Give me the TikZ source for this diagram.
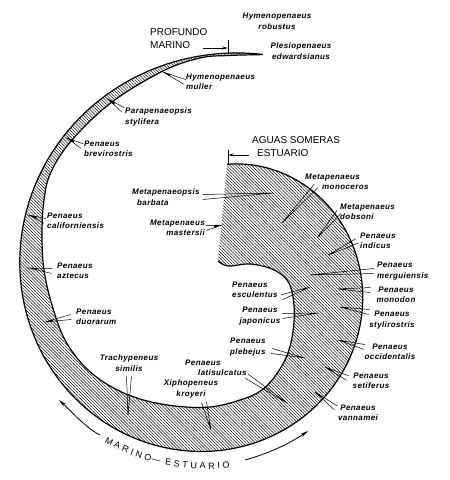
\documentclass[tikz,border=0pt]{standalone}
\usepackage{fontspec}
\setmainfont{Liberation Sans}
\newfontfamily\spfont[LetterSpace=5]{Liberation Sans}
\newfontfamily\arcfont[WordSpace=1.1]{Liberation Sans}
\usetikzlibrary{calc,patterns.meta,arrows.meta,decorations.text}

\tikzset{
  species/.style={font=\spfont\bfseries\itshape\fontsize{8}{10.5}\selectfont, inner sep=0pt, align=left},
  zone/.style={font=\fontsize{10}{13}\selectfont, inner sep=0pt, align=left, anchor=west},
  leader/.style={line width=0.5pt},
  rim/.style={line width=1.2pt, line join=round},
  band/.style={pattern={Lines[angle=-45,distance=2.2pt,line width=0.45pt]}},
  tickmark/.style={line width=0.8pt},
  zonearrow/.style={line width=0.8pt, -{Stealth[length=6pt,width=3pt]}},
  sweep/.style={line width=0.8pt, -{Stealth[length=8pt,width=3.5pt]}},
}

% leader: thin wedge from a label to its spot on the band
\newcommand{\wedgeto}[2]{%
  \coordinate (w0) at (#1);
  \coordinate (w1) at ($(w0)!2.5pt!90:(#2)$);
  \coordinate (w2) at ($(w0)!2.5pt!-90:(#2)$);
  \draw[leader] (w1) -- (#2) -- (w2);
  \fill ($(#2)!8pt!(w1)$) -- (#2) -- ($(#2)!8pt!(w2)$) -- cycle;}

\begin{document}
\begin{tikzpicture}[x=1pt,y=-1pt]
  \useasboundingbox (0,0) rectangle (450,480);

  % Band
  \fill[band] plot[domain=79:446,samples=150] ({219+(227-0.31*(\x-88))*cos(\x)},{280-(227-0.31*(\x-88))*sin(\x)})
    -- plot[smooth,tension=0.6] coordinates {(218,261) (228,266) (250,264) (272,269) (287,280) (293,297) (294,322) (289,350) (278,372) (262,390) (240,400) (210,407) (175,406) (140,399) (110,386) (85,367) (65,340) (52,305) (44,270) (42,235) (44,200) (51,172) (72,140) (112,102) (163,71) (200,58) (228,55.5) (263,54.6)} -- cycle;
  \draw[rim] plot[domain=79:446,samples=150] ({219+(227-0.31*(\x-88))*cos(\x)},{280-(227-0.31*(\x-88))*sin(\x)});
  \draw[rim] plot[smooth,tension=0.6] coordinates {(218,261) (228,266) (250,264) (272,269) (287,280) (293,297) (294,322) (289,350) (278,372) (262,390) (240,400) (210,407) (175,406) (140,399) (110,386) (85,367) (65,340) (52,305) (44,270) (42,235) (44,200) (51,172) (72,140) (112,102) (163,71) (200,58) (228,55.5) (263,54.6)};

  % Zones
  \node[zone] (prof) at (150,38.5) {PROFUNDO\\MARINO};
  \node[zone] (agua) at (252,147) {AGUAS SOMERAS\\\hspace*{5pt}ESTUARIO};
  \coordinate (prof-k) at (228,53);
  \coordinate (agua-k) at (228,164);
  \coordinate (prof-a) at (203,48);
  \coordinate (agua-a) at (249,155);
  \draw[tickmark] (prof-k) -- ++(0,-13);
  \draw[tickmark] (agua-k) -- ++(0,-14);
  \draw[zonearrow] (prof-a) -- (prof-k |- prof-a);
  \draw[zonearrow] (agua-a) -- (agua-k |- agua-a);

  % Species
  \node[species, align=center] (hrob) at (277,21.5) {Hymenopenaeus\\robustus};
  \node[species, align=center] (pedw) at (301,51) {Plesiopenaeus\\edwardsianus};
  \node[species, anchor=west] (hmul) at (186,82) {Hymenopenaeus\\muller};
  \node[species, anchor=west] (psty) at (125,117) {Parapenaeopsis\\stylifera};
  \node[species, anchor=west] (pbre) at (84,149) {Penaeus\\brevirostris};
  \node[species, anchor=west] (pcal) at (47,221) {Penaeus\\californiensis};
  \node[species, anchor=west] (pazt) at (57,271) {Penaeus\\aztecus};
  \node[species, anchor=west] (pduo) at (76,317) {Penaeus\\duorarum};
  \node[species, align=center] (tsim) at (129,363) {Trachypeneus\\similis};
  \node[species, align=center] (xkro) at (191,389) {Xiphopeneus\\kroyeri};
  \node[species, anchor=west] (plat) at (185,368) {Penaeus\\\hspace*{13pt}latisulcatus};
  \node[species, anchor=west] (pple) at (230,347) {Penaeus\\plebejus};
  \node[species, align=center] (pjap) at (260,316) {Penaeus\\japonicus};
  \node[species, anchor=west] (pesc) at (232,290) {Penaeus\\esculentus};
  \node[species, anchor=west] (mbar) at (132,197) {Metapenaeopsis\\\hspace*{5pt}barbata};
  \node[species, anchor=east, align=right] (mmas) at (205,228) {Metapenaeus\\mastersii};
  \node[species, anchor=west] (mmon) at (305,182) {Metapenaeus\\\hspace*{17pt}monoceros};
  \node[species, anchor=west] (mdob) at (340,212) {Metapenaeus\\dobsoni};
  \node[species, anchor=west] (pind) at (360,241) {Penaeus\\indicus};
  \node[species, anchor=west] (pmer) at (377,271) {Penaeus\\merguiensis};
  \node[species, align=center] (pmon) at (396,295) {Penaeus\\monodon};
  \node[species, align=center] (pstr) at (392,320) {Penaeus\\stylirostris};
  \node[species, align=center] (pocc) at (390,352) {Penaeus\\occidentalis};
  \node[species, align=center] (pset) at (371,381) {Penaeus\\setiferus};
  \node[species, align=center] (pvan) at (358,413) {Penaeus\\vannamei};

  % Spots on the band
  \coordinate (hmul-t) at (163,72);
  \coordinate (psty-t) at (108,99);
  \coordinate (pbre-t) at (67,138);
  \coordinate (pcal-t) at (29,215);
  \coordinate (pazt-t) at (29,268);
  \coordinate (pduo-t) at (45,322);
  \coordinate (tsim-t) at (128,415);
  \coordinate (xkro-t) at (211,430);
  \coordinate (plat-t) at (287,403);
  \coordinate (pple-t) at (305,358);
  \coordinate (pjap-t) at (318,313);
  \coordinate (pesc-t) at (310,287);
  \coordinate (mbar-t) at (273,193);
  \coordinate (mmas-t) at (222,225);
  \coordinate (mmon-t) at (282,223);
  \coordinate (mdob-t) at (317,238);
  \coordinate (pind-t) at (328,255);
  \coordinate (pmer-t) at (310,275);
  \coordinate (pmon-t) at (338,289);
  \coordinate (pstr-t) at (340,307);
  \coordinate (pocc-t) at (338,340);
  \coordinate (pset-t) at (325,367);
  \coordinate (pvan-t) at (315,392);

  % Leaders
  \wedgeto{[xshift=-1pt]hmul.west}{hmul-t}
  \wedgeto{[xshift=-2pt,yshift=-2pt]psty.north west}{psty-t}
  \wedgeto{[xshift=-2pt,yshift=3pt]pbre.west}{pbre-t}
  \wedgeto{[xshift=-2pt]pcal.west}{pcal-t}
  \wedgeto{[xshift=-5pt]pazt.west}{pazt-t}
  \wedgeto{[xshift=-5pt]pduo.west}{pduo-t}
  \wedgeto{[yshift=-5pt]tsim.south}{tsim-t}
  \wedgeto{[xshift=13pt,yshift=-4pt]xkro.south}{xkro-t}
  \wedgeto{plat.south east}{plat-t}
  \wedgeto{[xshift=6pt,yshift=-4pt]pple.east}{pple-t}
  \wedgeto{[xshift=2pt]pjap.east}{pjap-t}
  \wedgeto{[xshift=4pt,yshift=1pt]pesc.south east}{pesc-t}
  \wedgeto{[xshift=3pt]mbar.east}{mbar-t}
  \wedgeto{[xshift=1pt]mmas.east}{mmas-t}
  \wedgeto{[xshift=11pt,yshift=-4pt]mmon.west}{mmon-t}
  \wedgeto{[xshift=-1pt]mdob.west}{mdob-t}
  \wedgeto{[xshift=-3pt]pind.west}{pind-t}
  \wedgeto{[xshift=-3pt]pmer.west}{pmer-t}
  \wedgeto{[xshift=-6pt,yshift=5pt]pmon.west}{pmon-t}
  \wedgeto{[yshift=8pt]pstr.west}{pstr-t}
  \wedgeto{[yshift=5pt]pocc.west}{pocc-t}
  \wedgeto{[xshift=-5pt,yshift=3pt]pset.west}{pset-t}
  \wedgeto{[xshift=-2pt,yshift=5pt]pvan.west}{pvan-t}

  % Marino -- Estuario
  \path[decorate, decoration={text along path,
      text={|\arcfont\fontsize{9}{12}\selectfont|M A R I N O{\kern1pt}—{\kern5pt}E S T U A R I O}}]
    (205,268) ++(120:201) arc[start angle=120, end angle=70, radius=201];
  \coordinate (ma1) at (100,435);
  \coordinate (ma2) at (59,400);
  \coordinate (ea1) at (245,460);
  \coordinate (ea2) at (308,431);
  \draw[sweep] (ma1) .. controls (86,428) and (71,411) .. (ma2);
  \draw[sweep] (ea1) .. controls (267,454) and (289,444) .. (ea2);
\end{tikzpicture}
\end{document}
